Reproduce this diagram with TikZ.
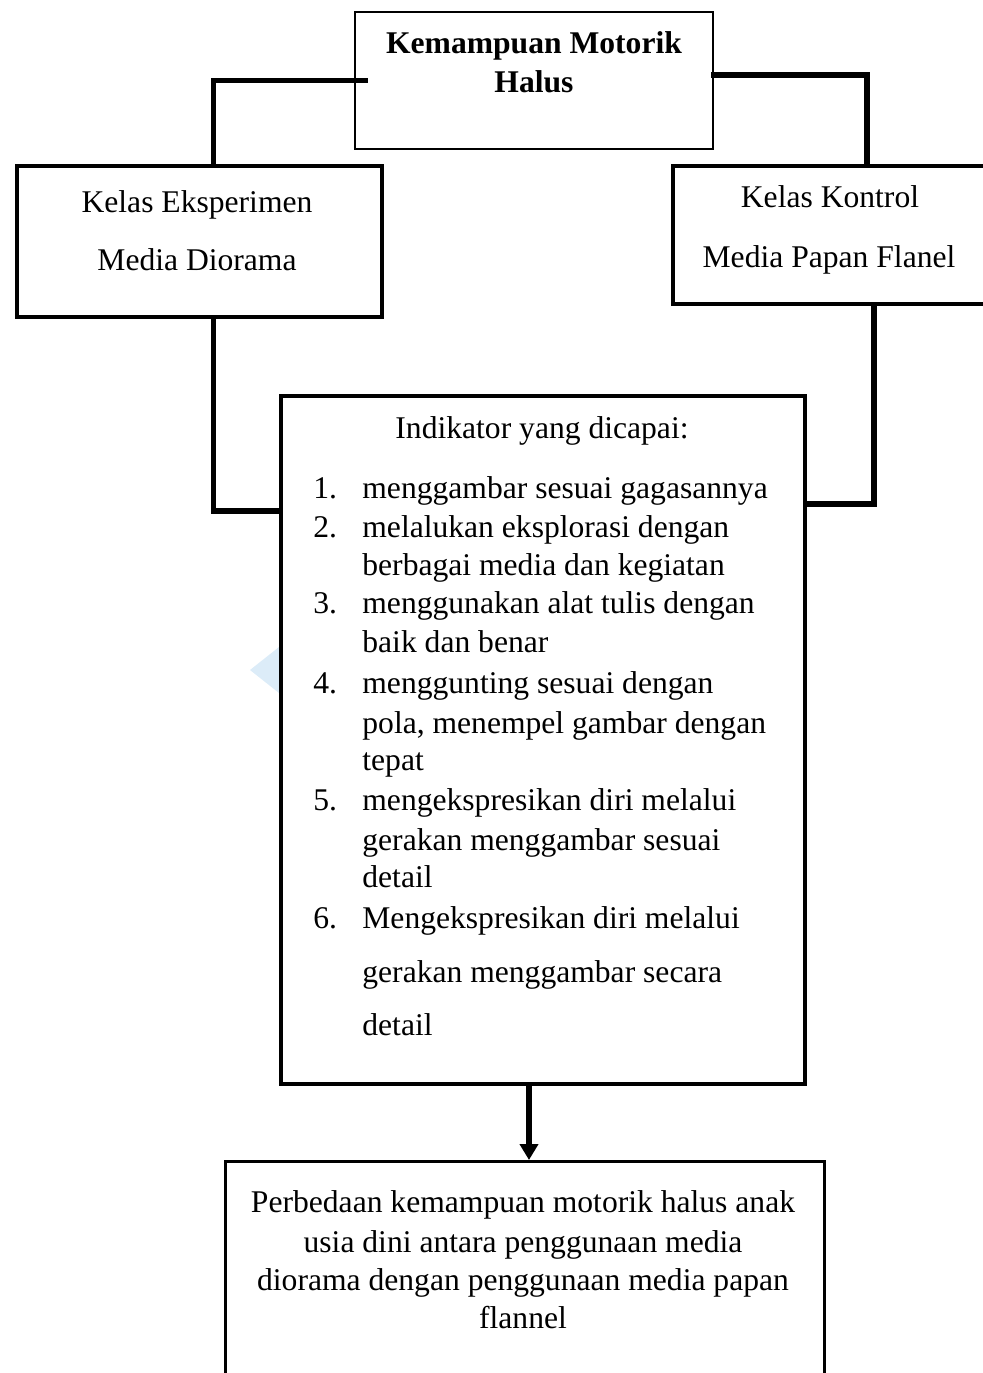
\documentclass[tikz,border=0pt]{standalone}
\usepackage{fontspec}
\setmainfont{Liberation Serif}
\usetikzlibrary{arrows.meta}
\definecolor{wm}{RGB}{220,236,248}
\tikzset{
  txt/.style={inner sep=0pt, yshift=-2.5pt, font=\fontsize{15.8}{19}\selectfont, text height=0.7em, text depth=0.2em},
  thinbox/.style={draw=black, line width=1pt, anchor=north west, inner sep=0pt},
  thickbox/.style={draw=black, line width=2pt, anchor=north west, inner sep=0pt},
  midbox/.style={draw=black, line width=1.5pt, anchor=north west, inner sep=0pt},
  conn/.style={draw=black, line width=2.8pt, line cap=rect},
  arr/.style={draw=black, line width=2.6pt, -{Triangle[width=9pt,length=8pt]}}
}
\begin{document}
\begin{tikzpicture}[x=0.5pt,y=-0.5pt]
\useasboundingbox (0,0) rectangle (983,1373);
% watermark
\fill[wm] (250,670) -- (279,647) -- (279,693) -- cycle;
% boxes
\node[thinbox, minimum width=179pt, minimum height=68.5pt] (top) at (354,11) {};
\node[thickbox, minimum width=182.5pt, minimum height=75.5pt] (left) at (15,164) {};
\node[thickbox, minimum width=162pt, minimum height=69pt] (right) at (671,164) {};
\node[thickbox, minimum width=262pt, minimum height=344pt] (mid) at (279,394) {};
\node[midbox, minimum width=299.5pt, minimum height=130pt] (bot) at (224,1160) {};
% connectors
\draw[conn] ([xshift=5.5pt]top.west) -| ([xshift=7pt]left.north);
\draw[conn] ([yshift=2.75pt]top.east) -| ([xshift=16pt]right.north);
\draw[conn] ([xshift=7pt]left.south) |- ([yshift=114.5pt]mid.west);
\draw[conn] ([xshift=19.5pt]right.south) |- ([yshift=118pt]mid.east);
\coordinate (arrs) at ([xshift=-7pt]mid.south);
\draw[arr] (arrs) -- (arrs |- bot.north);
% texts: top
\node[txt, font=\fontsize{15.8}{19}\selectfont\bfseries] (t1) at (534,43) {Kemampuan Motorik};
\node[txt, font=\fontsize{15.8}{19}\selectfont\bfseries] (t2) at (534,82) {Halus};
% left / right
\node[txt] (le1) at (197,202) {Kelas Eksperimen};
\node[txt] (le2) at (197,260) {Media Diorama};
\node[txt] (ri1) at (830,197) {Kelas Kontrol};
\node[txt] (ri2) at (829,257) {Media Papan Flanel};
% middle
\node[txt] (hd) at (542,428) {Indikator yang dicapai:};
\node[txt, anchor=west] (n1) at (313,488) {1.};
\node[txt, anchor=west] (n2) at (313,527) {2.};
\node[txt, anchor=west] (n3) at (313,603) {3.};
\node[txt, anchor=west] (n4) at (313,683) {4.};
\node[txt, anchor=west] (n5) at (313,800) {5.};
\node[txt, anchor=west] (n6) at (313,918) {6.};
\node[txt, anchor=west] (i1) at (362,488) {menggambar sesuai gagasannya};
\node[txt, anchor=west] (i2) at (362,527) {melalukan eksplorasi dengan};
\node[txt, anchor=west] (i2b) at (362,565) {berbagai media dan kegiatan};
\node[txt, anchor=west] (i3) at (362,603) {menggunakan alat tulis dengan};
\node[txt, anchor=west] (i3b) at (362,642) {baik dan benar};
\node[txt, anchor=west] (i4) at (362,683) {menggunting sesuai dengan};
\node[txt, anchor=west] (i4b) at (362,723) {pola, menempel gambar dengan};
\node[txt, anchor=west] (i4c) at (362,760) {tepat};
\node[txt, anchor=west] (i5) at (362,800) {mengekspresikan diri melalui};
\node[txt, anchor=west] (i5b) at (362,840) {gerakan menggambar sesuai};
\node[txt, anchor=west] (i5c) at (362,877) {detail};
\node[txt, anchor=west] (i6) at (362,918) {Mengekspresikan diri melalui};
\node[txt, anchor=west] (i6b) at (362,972) {gerakan menggambar secara};
\node[txt, anchor=west] (i6c) at (362,1025) {detail};
% bottom
\node[txt] (b1) at (523,1202) {Perbedaan kemampuan motorik halus anak};
\node[txt] (b2) at (523,1242) {usia dini antara penggunaan media};
\node[txt] (b3) at (523,1280) {diorama dengan penggunaan media papan};
\node[txt] (b4) at (523,1318) {flannel};
\end{tikzpicture}
\end{document}
